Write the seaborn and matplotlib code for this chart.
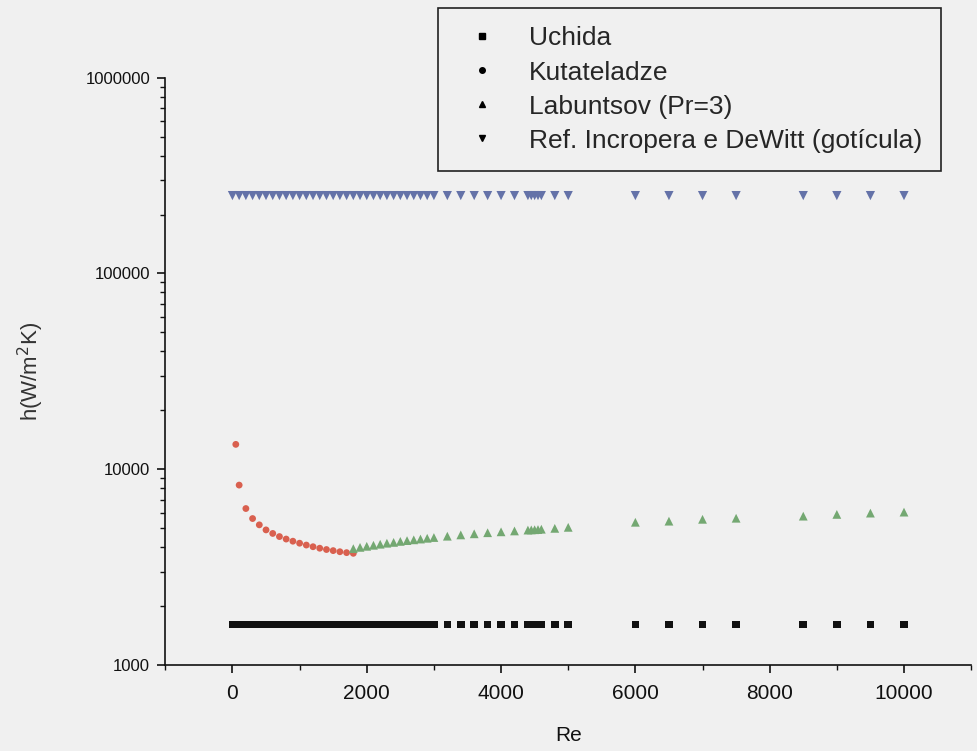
import numpy as np
import pandas as pd
import matplotlib
matplotlib.use("Agg")
import matplotlib.pyplot as plt
from matplotlib.lines import Line2D
from matplotlib.ticker import FixedLocator, LogLocator, FuncFormatter, NullFormatter
import seaborn as sns

# Reynolds number grids
re_dense = list(range(0, 3001, 100))
re_sparse = [3200, 3400, 3600, 3800, 4000, 4200, 4400, 4450, 4500, 4550, 4600,
             4800, 5000, 6000, 6500, 7000, 7500, 8500, 9000, 9500, 10000]
re_all = re_dense + re_sparse

# Uchida and Incropera & DeWitt (droplet) are flat in Re
h_uchida_value = 1610
h_incropera_value = 250000
h_uchida = [h_uchida_value] * len(re_all)
h_incropera = [h_incropera_value] * len(re_all)

# Kutateladze (laminar-wavy range)
re_kut = [50, 100, 200, 300, 400, 500, 600, 700, 800, 900, 1000, 1100, 1200,
          1300, 1400, 1500, 1600, 1700, 1800]
h_kut = [13400, 8300, 6300, 5600, 5200, 4900, 4700, 4530, 4400, 4290, 4190,
         4100, 4020, 3950, 3890, 3840, 3790, 3750, 3720]

# Labuntsov, Pr = 3 (turbulent range)
re_lab = [1800, 1900, 2000, 2100, 2200, 2300, 2400, 2500, 2600, 2700, 2800,
          2900, 3000] + re_sparse
h_lab = [3930, 3990, 4040, 4090, 4140, 4190, 4230, 4280, 4320, 4360, 4400,
         4440, 4480,
         4550, 4620, 4680, 4740, 4790, 4840, 4890, 4900, 4910, 4920, 4940,
         4990, 5050, 5360, 5430, 5550, 5620, 5760, 5880, 5970, 6040]

labels = ["Uchida", "Kutateladze", "Labuntsov (Pr=3)",
          "Ref. Incropera e DeWitt (gotícula)"]

bg = "#f0f0f0"
sns.set_theme(style="ticks")
plt.rcParams["font.family"] = ["Liberation Sans", "DejaVu Sans"]

fig = plt.figure(figsize=(9.78, 7.51), dpi=100, facecolor=bg)
ax = fig.add_axes([0.169, 0.1145, 0.824, 0.782])
ax.set_facecolor(bg)

df_uch = pd.DataFrame({"Re": re_all, "h": h_uchida})
df_inc = pd.DataFrame({"Re": re_all, "h": h_incropera})
df_kut = pd.DataFrame({"Re": re_kut, "h": h_kut})
df_lab = pd.DataFrame({"Re": re_lab, "h": h_lab})

sns.scatterplot(data=df_inc, x="Re", y="h", ax=ax, marker="v", s=44,
                color="#6472a8", edgecolor="none", zorder=3)
sns.scatterplot(data=df_kut, x="Re", y="h", ax=ax, marker="o", s=24,
                color="#d9604f", edgecolor="none", zorder=3)
sns.scatterplot(data=df_lab, x="Re", y="h", ax=ax, marker="^", s=40,
                color="#74a872", edgecolor="none", zorder=3)
sns.scatterplot(data=df_uch, x="Re", y="h", ax=ax, marker="s", s=30,
                color="#111111", edgecolor="none", zorder=3)

ax.set_yscale("log")
ax.set_xlim(-1000, 11000)
ax.set_ylim(1000, 1000000)

ax.xaxis.set_major_locator(FixedLocator([0, 2000, 4000, 6000, 8000, 10000]))
ax.xaxis.set_minor_locator(FixedLocator([-1000, 1000, 3000, 5000, 7000, 9000, 11000]))
ax.yaxis.set_major_locator(LogLocator(base=10, numticks=10))
ax.yaxis.set_minor_locator(LogLocator(base=10, subs=np.arange(2, 10), numticks=20))
ax.yaxis.set_major_formatter(FuncFormatter(lambda v, p: f"{int(round(v))}"))
ax.yaxis.set_minor_formatter(NullFormatter())

for side in ["top", "right"]:
    ax.spines[side].set_visible(False)
for side in ["left", "bottom"]:
    ax.spines[side].set_color("#111111")
    ax.spines[side].set_linewidth(1.2)

ax.tick_params(axis="both", which="major", direction="out", length=6,
               width=1.2, color="#111111")
ax.tick_params(axis="both", which="minor", direction="out", length=3.5,
               width=1.0, color="#111111")
ax.tick_params(axis="x", labelsize=15, pad=8, labelcolor="#111111")
ax.tick_params(axis="y", labelsize=12, pad=5, labelcolor="#111111")

ax.set_xlabel("Re", fontsize=15, labelpad=16, color="#111111")
ax.set_ylabel("h(W/m$^2$K)", fontsize=16, color="#333333")
ax.yaxis.set_label_coords(-0.148, 0.5)

handles = [
    Line2D([], [], linestyle="none", marker="s", markersize=5, color="black"),
    Line2D([], [], linestyle="none", marker="o", markersize=4, color="black"),
    Line2D([], [], linestyle="none", marker="^", markersize=5, color="black"),
    Line2D([], [], linestyle="none", marker="v", markersize=5, color="black"),
]
leg = fig.legend(handles, labels, loc="upper left",
                 bbox_to_anchor=(438 / 978, 1 - 8 / 751),
                 frameon=True, fancybox=False, fontsize=19,
                 handletextpad=0.85, labelspacing=0.38, borderpad=0.7,
                 borderaxespad=0, handlelength=1.9)
frame = leg.get_frame()
frame.set_edgecolor("#222222")
frame.set_linewidth(1.2)
frame.set_facecolor(bg)
frame.set_alpha(1)

fig.savefig("out.png", dpi=100, facecolor=bg)
